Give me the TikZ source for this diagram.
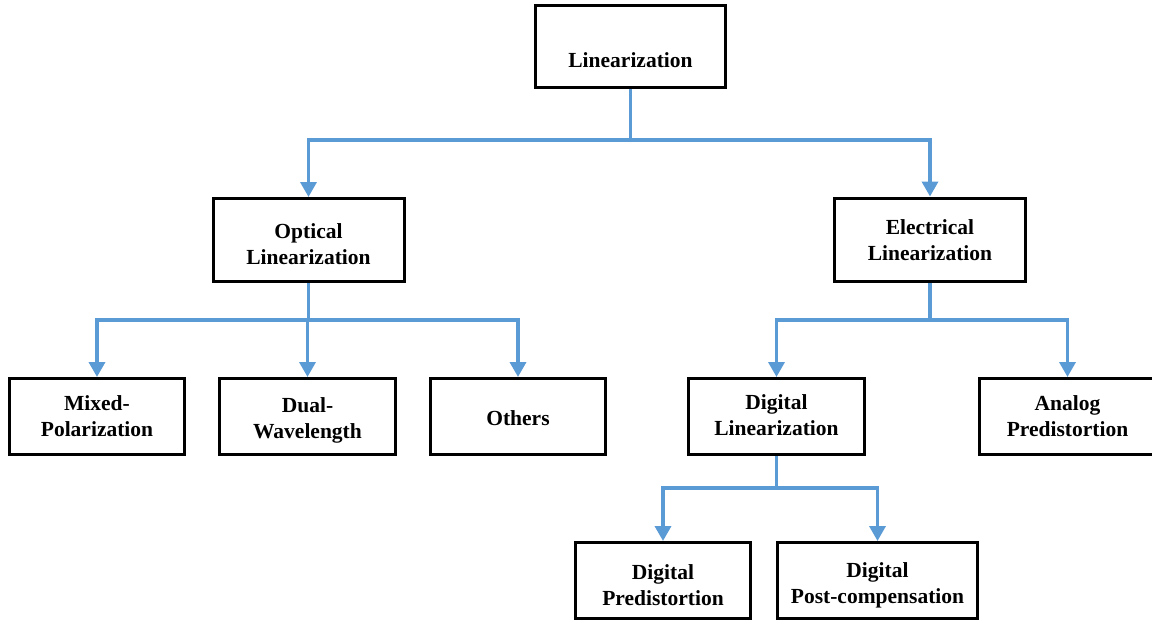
\documentclass[tikz,border=0pt]{standalone}
\usepackage{fontspec}
\setmainfont{Liberation Serif}
\usetikzlibrary{arrows.meta,positioning}

\definecolor{linkblue}{HTML}{5B9BD5}

\tikzset{
  box/.style={draw=black, line width=3pt, fill=white, inner sep=0pt},
  caption/.style={align=center, inner sep=0pt, text=black,
    font=\fontsize{21.5}{26}\selectfont\bfseries},
  wide/.style={minimum width=191pt, minimum height=83pt},
  leaf/.style={minimum width=176pt, minimum height=76pt},
  link/.style={draw=linkblue, line width=3.5pt},
  arrowlink/.style={link, -{Triangle[width=16pt,length=15pt]}}
}

% box with its caption, the caption optionally shifted down
\newcommand{\labelledbox}[5]{%
  \node[box, #1, label={[caption, yshift=-#5pt]center:#4}] (#2) at #3 {};}

\begin{document}
\begin{tikzpicture}[x=1pt,y=-1pt]
  \clip (0,0) rectangle (1152,621);
  \fill[white] (0,0) rectangle (1152,621);

  % junction points of the connectors
  \coordinate (jroot) at (630.5,140);
  \coordinate (jopt)  at (308.5,320);
  \coordinate (jele)  at (930,320);
  \coordinate (jdig)  at (776.5,488);

  % boxes
  \labelledbox{minimum width=190pt, minimum height=82pt}{lin}{(630.5,46.5)}{Linearization}{14}

  \labelledbox{wide}{opt}{(308.5,240)}{Optical\\Linearization}{4}
  \labelledbox{wide}{ele}{(930,239.5)}{Electrical\\Linearization}{1}

  \labelledbox{leaf, minimum width=175pt}{mix}{(97,416.5)}{Mixed-\\Polarization}{0}
  \labelledbox{leaf}{dual}{(307.5,416.5)}{Dual-\\Wavelength}{4}
  \labelledbox{leaf, minimum width=175pt}{oth}{(518,416.5)}{Others}{2}
  \labelledbox{leaf}{dig}{(776.5,416.5)}{Digital\\Linearization}{-1}
  \labelledbox{leaf}{ana}{(1067.5,416.5)}{Analog\\Predistortion}{0}

  \labelledbox{leaf, minimum width=175pt}{dpd}{(663,580.5)}{Digital\\Predistortion}{5}
  \labelledbox{leaf, minimum width=200pt}{dpc}{(877.5,580.5)}{Digital\\Post-compensation}{5}

  % root level
  \draw[link] (lin.south) -- (jroot);
  \draw[arrowlink] (jroot) -| (opt.north);
  \draw[arrowlink] (jroot) -| (ele.north);

  % optical branch
  \draw[link] (opt.south) -- (jopt);
  \draw[arrowlink] (jopt) -| (mix.north);
  \draw[arrowlink] (jopt) -| (dual.north);
  \draw[arrowlink] (jopt) -| (oth.north);

  % electrical branch
  \draw[link] (ele.south) -- (jele);
  \draw[arrowlink] (jele) -| (dig.north);
  \draw[arrowlink] (jele) -| (ana.north);

  % digital branch
  \draw[link] (dig.south) -- (jdig);
  \draw[arrowlink] (jdig) -| (dpd.north);
  \draw[arrowlink] (jdig) -| (dpc.north);
\end{tikzpicture}
\end{document}
